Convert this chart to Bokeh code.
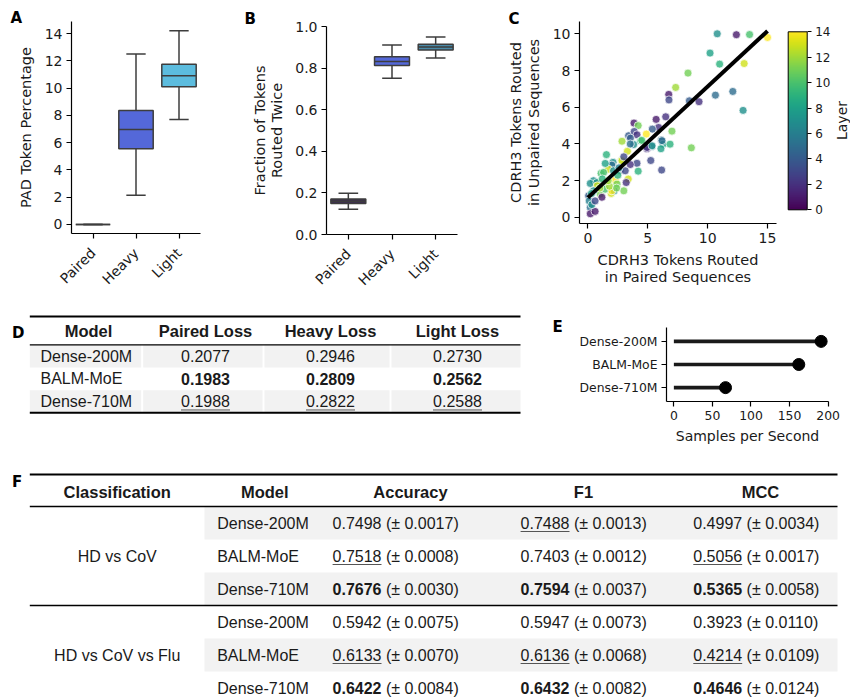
from math import pi
from bokeh.plotting import figure
from bokeh.models import (Range1d, FixedTicker, NumeralTickFormatter, LinearColorMapper,
                          ColorBar, Label, ColumnDataSource, Title)
from bokeh.layouts import row, column
from bokeh.palettes import Viridis256
from bokeh.embed import file_html
from bokeh.resources import INLINE
from bokeh.core.properties import value

# ---------------- data ----------------
box_cats = ["Paired", "Heavy", "Light"]
# Panel A: PAD token percentage (box stats)
A_min = [0.0, 2.15, 7.7]
A_q1 = [0.0, 5.55, 10.1]
A_med = [0.0, 6.97, 10.9]
A_q3 = [0.0, 8.35, 11.75]
A_max = [0.0, 12.5, 14.2]
# Panel B: fraction of tokens routed twice
B_min = [0.121, 0.751, 0.848]
B_q1 = [0.149, 0.812, 0.887]
B_med = [0.160, 0.832, 0.901]
B_q3 = [0.171, 0.855, 0.915]
B_max = [0.198, 0.911, 0.950]

# Panel C: CDRH3 tokens routed (paired vs unpaired), coloured by layer
sc_x = [10.8, 12.4, 13.5, 15.0, 10.2, 11.0, 13.05, 8.36,
        7.33, 6.75, 6.77, 8.47, 9.28, 10.65, 12.1, 12.96,
        3.85, 4.2, 5.7, 6.5, 5.9, 5.38, 7.02, 4.88,
        3.4, 3.87, 4.1, 3.55, 2.85, 4.4, 3.82, 6.13,
        6.27, 6.86, 6.1, 5.35, 8.64, 3.3, 4.93, 5.25,
        6.16, 4.1, 3.54, 4.2, 3.37, 3.2, 3.0, 2.31,
        1.95, 1.55, 2.1, 2.0, 1.7, 2.8, 1.45, 1.1,
        0.9, 0.47, 0.2, 0.06, 0.11, 0.2, 0.2, 0.6,
        0.33, 2.43, 2.2, 1.48, 1.03, 1.17, 0.75, 0.78,
        1.45, 1.59, 2.14, 2.0, 2.7, 3.12, 2.85, 3.54,
        4.94, 5.36, 6.19, 0.47, 1.31, 1.0, 2.6, 1.8,
        0.3, 2.5, 3.0, 1.7, 0.6, 4.5, 1.2, 2.4]
sc_y = [10.0, 9.95, 9.96, 9.8, 8.95, 8.35, 8.38, 7.86,
        7.08, 6.7, 6.4, 6.35, 6.3, 6.66, 6.86, 5.83,
        5.14, 5.0, 5.34, 5.48, 4.9, 4.81, 4.7, 4.54,
        4.45, 4.68, 4.5, 4.32, 4.15, 4.17, 3.97, 4.22,
        3.99, 3.99, 3.74, 3.86, 3.79, 3.6, 3.74, 3.1,
        2.58, 2.95, 2.88, 2.52, 2.09, 1.9, 1.45, 2.02,
        1.31, 3.42, 3.0, 2.85, 2.63, 3.1, 2.94, 2.4,
        1.9, 2.0, 1.85, 1.18, 0.9, 0.54, 0.2, 0.33,
        0.7, 1.81, 1.45, 1.72, 1.27, 1.1, 1.9, 1.72,
        1.54, 2.0, 2.54, 1.45, 2.54, 2.54, 3.09, 4.0,
        3.81, 3.9, 4.18, 1.45, 2.45, 1.6, 2.7, 1.7,
        1.3, 2.3, 3.3, 2.0, 0.9, 4.2, 2.1, 1.6]
sc_layer = [7, 1, 10, 14, 8, 9, 13, 11,
            12, 1, 3, 4, 2, 5, 5, 7,
            1, 11, 1, 2, 2, 4, 11, 14,
            4, 3, 2, 4, 12, 9, 7, 5,
            8, 9, 8, 6, 11, 13, 2, 3,
            3, 3, 2, 9, 13, 2, 11, 14,
            13, 9, 7, 5, 13, 12, 8, 10,
            13, 7, 7, 4, 6, 5, 1, 1,
            7, 11, 7, 11, 11, 1, 7, 13,
            10, 10, 7, 14, 4, 3, 13, 5,
            2, 7, 5, 7, 10, 12, 6, 12,
            8, 9, 3, 12, 3, 10, 9, 11]
fit_x = [0.0, 15.0]
fit_y = [1.08, 10.15]
layer_ticks = [0, 2, 4, 6, 8, 10, 12, 14]

# Panel D: loss table
D_header = ["Model", "Paired Loss", "Heavy Loss", "Light Loss"]
D_models = ["Dense-200M", "BALM-MoE", "Dense-710M"]
paired_loss = [0.2077, 0.1983, 0.1988]
heavy_loss = [0.2946, 0.2809, 0.2822]
light_loss = [0.2730, 0.2562, 0.2588]

# Panel E: throughput
E_models = ["Dense-200M", "BALM-MoE", "Dense-710M"]
E_speed = [191, 162, 67]
E_ticks = [0, 50, 100, 150, 200]

# Panel F: classification table
F_header = ["Classification", "Model", "Accuracy", "F1", "MCC"]
F_tasks = ["HD vs CoV", "HD vs CoV vs Flu"]
F_models = ["Dense-200M", "BALM-MoE", "Dense-710M"]
acc_mean = [0.7498, 0.7518, 0.7676, 0.5942, 0.6133, 0.6422]
acc_sd = [0.0017, 0.0008, 0.0030, 0.0075, 0.0070, 0.0084]
f1_mean = [0.7488, 0.7403, 0.7594, 0.5947, 0.6136, 0.6432]
f1_sd = [0.0013, 0.0012, 0.0037, 0.0073, 0.0068, 0.0082]
mcc_mean = [0.4997, 0.5056, 0.5365, 0.3923, 0.4214, 0.4646]
mcc_sd = [0.0034, 0.0017, 0.0058, 0.0110, 0.0109, 0.0124]

# ---------------- style ----------------
AX_FONT = "DejaVu Sans"
TB_FONT = "Liberation Sans"
EDGE = "#3d3d3d"
TXT = "#1a1a1a"
A_colors = ["#3d3d3d", "#5468d9", "#5cbcde"]
B_colors = ["#3e2d52", "#5468d9", "#4a8aa8"]


def make_fig(w, h, xr, yr, l=0, r=0, t=0, b=0, axes=True):
    p = figure(width=w, height=h, x_range=xr, y_range=yr, output_backend="svg",
               toolbar_location=None, title_location=None,
               min_border_left=l, min_border_right=r, min_border_top=t, min_border_bottom=b,
               x_axis_location="below" if axes else None,
               y_axis_location="left" if axes else None)
    if "frame_align" in p.properties():
        p.frame_align = False
    p.outline_line_color = None
    p.background_fill_color = "white"
    p.border_fill_color = "white"
    for g in p.grid:
        g.visible = False
    for ax in p.axis:
        ax.axis_line_color = "black"
        ax.axis_line_width = 1.2
        ax.major_tick_line_color = "black"
        ax.major_tick_line_width = 1.2
        ax.major_tick_in = 0
        ax.major_tick_out = 5
        ax.minor_tick_line_color = None
        ax.major_label_text_font = AX_FONT
        ax.major_label_text_font_size = "14px"
        ax.major_label_text_color = TXT
        ax.major_label_standoff = 4
        ax.axis_label_text_font = AX_FONT
        ax.axis_label_text_font_size = "14.5px"
        ax.axis_label_text_font_style = "normal"
        ax.axis_label_text_color = TXT
        ax.axis_label_text_line_height = 1.1
    return p


def letter(p, txt, dx, drop):
    """Panel letter as a title above the frame: dx px from frame left,
    text bottom `drop` px below the frame top."""
    p.add_layout(Title(text=txt, align="left", offset=dx, standoff=-2 * drop,
                       vertical_align="bottom", text_font=AX_FONT, text_font_style="bold",
                       text_font_size="15px", text_color="black"), "above")


def letter_at(p, txt, x, y):
    p.add_layout(Label(x=x, y=y, text=txt,
                       text_font=AX_FONT, text_font_style="bold", text_font_size="15px",
                       text_color="black", text_align="left", text_baseline="top"))


def draw_boxes(p, lo, q1, med, q3, hi, colors, box_w=0.8, cap_w=0.45):
    xs = list(range(len(box_cats)))
    src = ColumnDataSource(dict(
        x=xs, lo=lo, q1=q1, med=med, q3=q3, hi=hi, color=colors,
        bl=[x - box_w / 2 for x in xs], br=[x + box_w / 2 for x in xs],
        cl=[x - cap_w / 2 for x in xs], cr=[x + cap_w / 2 for x in xs]))
    kw = dict(source=src, line_color=EDGE, line_width=1.5)
    p.segment(x0="x", y0="lo", x1="x", y1="q1", **kw)
    p.segment(x0="x", y0="q3", x1="x", y1="hi", **kw)
    p.segment(x0="cl", y0="lo", x1="cr", y1="lo", **kw)
    p.segment(x0="cl", y0="hi", x1="cr", y1="hi", **kw)
    p.vbar(x="x", width=box_w, bottom="q1", top="q3", fill_color="color", **kw)
    p.segment(x0="bl", y0="med", x1="br", y1="med", **kw)
    p.xaxis.ticker = FixedTicker(ticks=xs)
    p.xaxis.major_label_overrides = {i: c for i, c in enumerate(box_cats)}
    p.xaxis.major_label_orientation = pi / 4
    p.xaxis.major_label_standoff = 12


# ---------------- Panel A ----------------
pA = make_fig(240, 300, Range1d(-0.5, 2.5), Range1d(-0.66, 14.88), l=71, r=40, t=21, b=67)
draw_boxes(pA, A_min, A_q1, A_med, A_q3, A_max, A_colors)
pA.yaxis.ticker = FixedTicker(ticks=[0, 2, 4, 6, 8, 10, 12, 14])
pA.yaxis.axis_label = "PAD Token Percentage"
pA.yaxis.axis_label_standoff = 8
letter(pA, "A", -61, 5.8)

# ---------------- Panel B ----------------
pB = make_fig(250, 300, Range1d(-0.5, 2.5), Range1d(0, 1.0), l=86, r=33, t=26, b=66)
draw_boxes(pB, B_min, B_q1, B_med, B_q3, B_max, B_colors)
pB.yaxis.ticker = FixedTicker(ticks=[0, 0.2, 0.4, 0.6, 0.8, 1.0])
pB.yaxis.formatter = NumeralTickFormatter(format="0.0")
pB.yaxis.axis_label = "Fraction of Tokens\nRouted Twice"
pB.yaxis.axis_label_standoff = 7
letter(pB, "B", -82, 1.5)

# ---------------- Panel C ----------------
pC = make_fig(297, 300, Range1d(-0.7, 15.75), Range1d(-0.33, 10.67), l=89, r=11, t=21, b=77)
mapper = LinearColorMapper(palette=Viridis256, low=0, high=14)
srcC = ColumnDataSource(dict(x=sc_x, y=sc_y, layer=sc_layer))
pC.scatter("x", "y", source=srcC, size=8, fill_color={"field": "layer", "transform": mapper},
           line_color="white", line_width=0.8, fill_alpha=0.8, line_alpha=0.9)
pC.line(fit_x, fit_y, line_color="black", line_width=4)
pC.xaxis.ticker = FixedTicker(ticks=[0, 5, 10, 15])
pC.yaxis.ticker = FixedTicker(ticks=[0, 2, 4, 6, 8, 10])
pC.xaxis.axis_label = "CDRH3 Tokens Routed\nin Paired Sequences"
pC.yaxis.axis_label = "CDRH3 Tokens Routed\nin Unpaired Sequences"
pC.xaxis.axis_label_standoff = 6
pC.yaxis.axis_label_standoff = 8
letter(pC, "C", -71, 6.5)

# colour bar panel (its own small canvas to the right of panel C)
CB_h = 300
pCB = make_fig(63, CB_h, Range1d(0, 1), Range1d(0, 1), axes=False)
cb = ColorBar(color_mapper=mapper, width=19, height=178, location=(0.7, CB_h - 209.3),
              padding=0, margin=0, ticker=FixedTicker(ticks=layer_ticks),
              major_tick_in=0, major_tick_out=4, major_tick_line_color="black",
              major_label_text_font=AX_FONT, major_label_text_font_size="12px",
              major_label_text_color=TXT, label_standoff=4,
              bar_line_color="black", bar_line_width=1,
              background_fill_alpha=0, border_line_color=None)
pCB.add_layout(cb)
pCB.add_layout(Label(x=54.7, y=CB_h - 120, x_units="screen", y_units="screen", text="Layer",
                     angle=pi / 2, text_align="center", text_baseline="middle",
                     text_font=AX_FONT, text_font_size="14px", text_color=TXT))

# ---------------- Panel E ----------------
pE = make_fig(320, 160, Range1d(-9.55, 200.55), Range1d(2.6, -0.6), l=136, r=22, t=27, b=59)
ey = list(range(len(E_models)))
srcE = ColumnDataSource(dict(y=ey, v=E_speed))
pE.segment(x0=0, y0="y", x1="v", y1="y", source=srcE, line_color="#1a1a1a", line_width=3.6)
pE.scatter("v", "y", source=srcE, size=12, fill_color="black", line_color="black")
pE.xaxis.ticker = FixedTicker(ticks=E_ticks)
pE.yaxis.ticker = FixedTicker(ticks=ey)
pE.yaxis.major_label_overrides = {i: m for i, m in enumerate(E_models)}
for ax in pE.axis:
    ax.major_label_text_font_size = "12.4px"
pE.xaxis.axis_label = "Samples per Second"
pE.xaxis.axis_label_text_font_size = "14px"
pE.xaxis.axis_label_standoff = 5
letter(pE, "E", -114, 8.8)

# ---------------- table helpers ----------------
def text(p, xs, ys, labels, align="center", bold=False, size="16px"):
    if not labels:
        return
    p.text(x=xs, y=ys, text=labels, text_font=value(TB_FONT), text_font_size=size,
           text_font_style="bold" if bold else "normal", text_color=TXT,
           text_align=align, text_baseline="middle")


def rules(p, x0, x1, ys, ws):
    for y, w in zip(ys, ws):
        p.segment(x0=[x0], y0=[y], x1=[x1], y1=[y], line_color="black", line_width=w)


# ---------------- Panel D (table) ----------------
pD = make_fig(530, 160, Range1d(0, 530), Range1d(460, 300), axes=False)
D_left, D_right = 29.3, 520
D_bounds = [29.3, 141.7, 263, 390, 520]
D_hx = [88, 205, 330, 457]
D_head_y, D_row0, D_row_h = 330, 344.3, 22.67
D_name_x = 40
D_row_y = [D_row0 + (i + 0.5) * D_row_h for i in range(len(D_models))]
bl, br, bt, bb = [], [], [], []
for i in range(len(D_models)):
    if i % 2 == 0:
        for j in range(len(D_bounds) - 1):
            bl.append(D_bounds[j] + (1 if j else 0))
            br.append(D_bounds[j + 1] - (1 if j < len(D_bounds) - 2 else 0))
            bt.append(D_row0 + i * D_row_h)
            bb.append(D_row0 + (i + 1) * D_row_h)
pD.quad(left=bl, right=br, top=bt, bottom=bb, fill_color="#f2f2f2", line_color=None)
rules(pD, D_left, D_right, [316, 344.3, 412.3], [2, 1.3, 2])
text(pD, D_hx, [D_head_y] * len(D_hx), D_header, bold=True, size="16.5px")
text(pD, [D_name_x] * len(D_models), D_row_y, D_models, align="left")
nx, ny, nt, bx, by, btx, ux0, ux1, uy = [], [], [], [], [], [], [], [], []
for j, losses in enumerate([paired_loss, heavy_loss, light_loss]):
    order = sorted(range(len(losses)), key=lambda k: losses[k])
    cx = D_hx[j + 1]
    for i, v in enumerate(losses):
        s = f"{v:.4f}"
        if i == order[0]:
            bx.append(cx); by.append(D_row_y[i]); btx.append(s)
        else:
            nx.append(cx); ny.append(D_row_y[i]); nt.append(s)
        if i == order[1]:
            ux0.append(cx - 24.5); ux1.append(cx + 24.5); uy.append(D_row_y[i] + 8.5)
text(pD, nx, ny, nt)
text(pD, bx, by, btx, bold=True)
pD.segment(x0=ux0, y0=uy, x1=ux1, y1=uy, line_color="#555555", line_width=1)
letter_at(pD, "D", 11.5, 323.5)

# ---------------- Panel F (table) ----------------
pF = make_fig(850, 240, Range1d(0, 850), Range1d(700, 460), axes=False)
F_left, F_right = 29.3, 837
F_band_left = 204
F_head_y, F_row0, F_row_h = 491, 506, 33
F_hx = [116.7, 264.3, 410, 583, 760]
F_class_x = 116.7
F_model_x = 216.7
F_split = [381, 569, 741.7]
n_rows = len(F_tasks) * len(F_models)
F_row_y = [F_row0 + (r + 0.5) * F_row_h for r in range(n_rows)]
gray = [r for r in range(n_rows) if r % 2 == 0]
pF.quad(left=[F_band_left] * len(gray), right=[F_right] * len(gray),
        top=[F_row0 + r * F_row_h for r in gray], bottom=[F_row0 + (r + 1) * F_row_h for r in gray],
        fill_color="#f2f2f2", line_color=None)
rules(pF, F_left, F_right, [474, 506, F_row0 + len(F_models) * F_row_h, F_row0 + n_rows * F_row_h],
      [2, 1.3, 1.6, 2])
text(pF, F_hx, [F_head_y] * len(F_hx), F_header, bold=True, size="16.5px")
text(pF, [F_class_x] * len(F_tasks),
     [F_row0 + (g * len(F_models) + len(F_models) / 2) * F_row_h for g in range(len(F_tasks))],
     F_tasks)
text(pF, [F_model_x] * n_rows, F_row_y, [F_models[r % len(F_models)] for r in range(n_rows)],
     align="left")
nx, ny, nt, bx, by, btx, px, py, pt, ux0, ux1, uy = [], [], [], [], [], [], [], [], [], [], [], []
for m, (means, sds) in enumerate([(acc_mean, acc_sd), (f1_mean, f1_sd), (mcc_mean, mcc_sd)]):
    sx = F_split[m]
    for g in range(len(F_tasks)):
        idx = list(range(g * len(F_models), (g + 1) * len(F_models)))
        order = sorted(idx, key=lambda k: -means[k])
        for r in idx:
            s = f"{means[r]:.4f}"
            if r == order[0]:
                bx.append(sx); by.append(F_row_y[r]); btx.append(s)
            else:
                nx.append(sx); ny.append(F_row_y[r]); nt.append(s)
            if r == order[1]:
                ux0.append(sx - 48.9); ux1.append(sx); uy.append(F_row_y[r] + 8.5)
            px.append(sx + 4.4); py.append(F_row_y[r]); pt.append(f"(\u00b1 {sds[r]:.4f})")
text(pF, nx, ny, nt, align="right")
text(pF, bx, by, btx, align="right", bold=True)
text(pF, px, py, pt, align="left")
pF.segment(x0=ux0, y0=uy, x1=ux1, y1=uy, line_color="#555555", line_width=1)
letter_at(pF, "F", 11.5, 472)

layout = column(row(pA, pB, pC, pCB), row(pD, pE), pF)
open("out.html", "w").write(file_html(layout, INLINE, title="chart"))
